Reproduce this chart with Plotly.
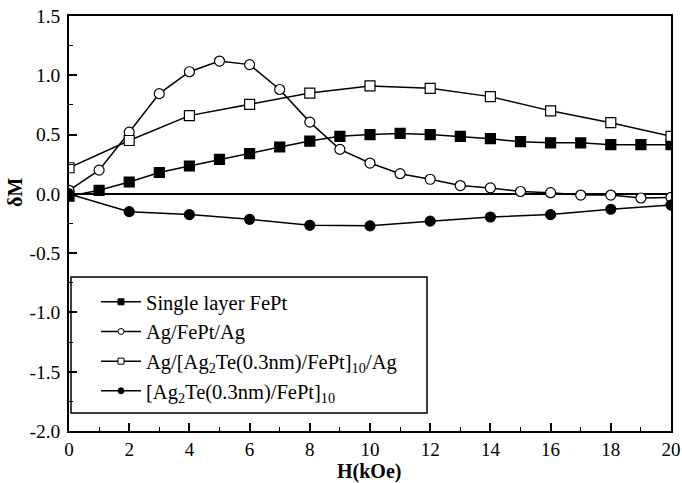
import plotly.graph_objects as go

# ---- data ----
h_full = list(range(0, 21))
h_even = list(range(0, 21, 2))
single_fept = [-0.02, 0.03, 0.10, 0.18, 0.235, 0.29, 0.34, 0.395, 0.445, 0.485, 0.50,
               0.51, 0.50, 0.485, 0.465, 0.44, 0.43, 0.43, 0.415, 0.415, 0.415]
ag_fept_ag = [0.03, 0.20, 0.52, 0.845, 1.03, 1.12, 1.09, 0.88, 0.605, 0.375, 0.26,
              0.17, 0.123, 0.07, 0.05, 0.02, 0.01, -0.01, -0.01, -0.035, -0.03]
ag_multi_ag = [0.22, 0.45, 0.66, 0.755, 0.85, 0.91, 0.89, 0.82, 0.70, 0.60, 0.485]
multi = [0.0, -0.15, -0.175, -0.215, -0.265, -0.27, -0.23, -0.195, -0.175, -0.13, -0.095]

names = ["Single layer FePt",
         "Ag/FePt/Ag",
         "Ag/[Ag<sub>2</sub>Te(0.3nm)/FePt]<sub>10</sub>/Ag",
         "[Ag<sub>2</sub>Te(0.3nm)/FePt]<sub>10</sub>"]
x_ticks = list(range(0, 21, 2))
y_ticks = [1.5, 1.0, 0.5, 0.0, -0.5, -1.0, -1.5, -2.0]

FONT = "Liberation Serif, Times New Roman, serif"

series = [
    (h_full, single_fept, "square", "black"),
    (h_full, ag_fept_ag, "circle", "white"),
    (h_even, ag_multi_ag, "square", "white"),
    (h_even, multi, "circle", "black"),
]

fig = go.Figure()
for (x, y, sym, fill), nm in zip(series, names):
    fig.add_trace(go.Scatter(
        x=x, y=y, mode="lines+markers", showlegend=False,
        line=dict(color="black", width=1.5),
        marker=dict(symbol=sym, size=10, color=fill, line=dict(color="black", width=1.2)),
    ))
# legend-only entries with small markers
for (x, y, sym, fill), nm in zip(series, names):
    fig.add_trace(go.Scatter(
        x=[None], y=[None], mode="lines+markers", name=nm,
        line=dict(color="black", width=1.5),
        marker=dict(symbol=sym, size=6, color=fill, line=dict(color="black", width=1)),
    ))

W, H = 682, 483
L, R, T, B = 69, 11, 16, 52
pw, ph = W - L - R, H - T - B

def px(xp):
    return (xp - L) / pw

def py(yp):
    return (H - B - yp) / ph

fig.update_layout(
    width=W, height=H, autosize=False,
    margin=dict(l=L, r=R, t=T, b=B, pad=0, autoexpand=False),
    paper_bgcolor="white", plot_bgcolor="white",
    font=dict(family=FONT, color="black", size=19),
    legend=dict(x=px(96), y=py(282), xanchor="left", yanchor="top",
                bgcolor="rgba(0,0,0,0)", borderwidth=0,
                font=dict(family=FONT, size=20.5, color="black"),
                itemwidth=40, tracegroupgap=0),
    shapes=[dict(type="rect", xref="paper", yref="paper",
                 x0=px(71), x1=px(427), y0=py(413), y1=py(277),
                 line=dict(color="black", width=1.5), fillcolor="rgba(0,0,0,0)")],
    annotations=[
        dict(text="<b>δM</b>", xref="paper", yref="paper", x=px(15), y=py(193),
             showarrow=False, textangle=-90, font=dict(family=FONT, size=20),
             xanchor="center", yanchor="middle"),
        dict(text="<b>H(kOe)</b>", xref="paper", yref="paper", x=px(369), y=py(471),
             showarrow=False, font=dict(family=FONT, size=20),
             xanchor="center", yanchor="middle"),
    ],
)
fig.update_xaxes(range=[0, 20], tickvals=x_ticks, ticktext=[str(v) for v in x_ticks],
                 automargin=False,
                 ticks="inside", ticklen=8, tickwidth=1.5, tickcolor="black",
                 tickfont=dict(family=FONT, size=19),
                 minor=dict(dtick=1, ticks="inside", ticklen=4, tickwidth=1.2, tickcolor="black"),
                 showline=True, linecolor="black", linewidth=1.5, mirror=True,
                 showgrid=False, zeroline=False, ticklabelstandoff=0)
fig.update_yaxes(range=[-2, 1.5], tickvals=y_ticks, ticktext=[f"{v:.1f}" for v in y_ticks],
                 automargin=False,
                 ticks="inside", ticklen=8, tickwidth=1.5, tickcolor="black",
                 tickfont=dict(family=FONT, size=19.5),
                 minor=dict(dtick=0.25, ticks="inside", ticklen=4, tickwidth=1.2, tickcolor="black"),
                 showline=True, linecolor="black", linewidth=1.5, mirror=True,
                 showgrid=False, zeroline=True, zerolinecolor="black", zerolinewidth=1.5,
                 ticklabelstandoff=3)

fig.write_html("out.html", config={"displayModeBar": False},
               post_script="document.body.style.margin='0';")
